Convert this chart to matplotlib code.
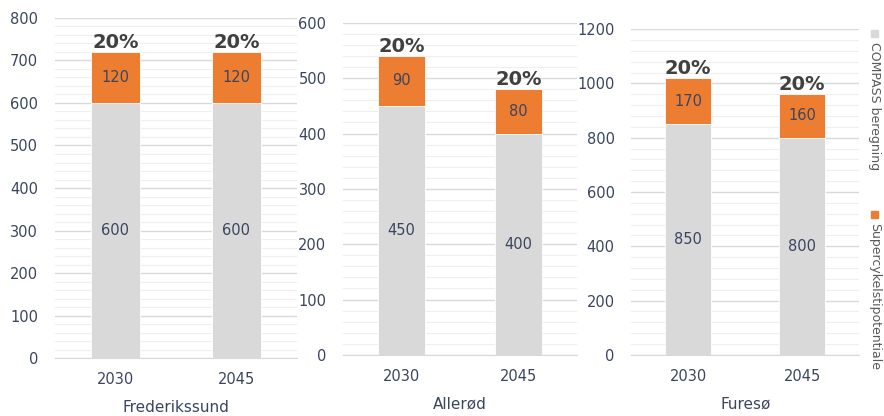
import matplotlib.pyplot as plt
import matplotlib.patches as mpatches
import numpy as np

years = ['2030', '2045']
municipalities = ['Frederikssund', 'Allerød', 'Furesø']
compass = [[600, 600], [450, 400], [850, 800]]
supercykel = [[120, 120], [90, 80], [170, 160]]
pct_labels = [['20%', '20%'], ['20%', '20%'], ['20%', '20%']]
ymax = [800, 600, 1200]
ystep = [100, 100, 200]

grey = '#d9d9d9'
orange = '#ed7d31'
txt = '#3a4660'

plt.rcParams['font.family'] = ['DejaVu Sans']

fig = plt.figure(figsize=(8.84, 4.16), dpi=100)
boxes = [[0.062, 0.139, 0.274, 0.818],
         [0.388, 0.147, 0.265, 0.798],
         [0.714, 0.147, 0.258, 0.783]]

for i, box in enumerate(boxes):
    ax = fig.add_axes(box)
    x = np.arange(len(years))
    ax.bar(x, compass[i], width=0.4, color=grey, edgecolor='white', linewidth=0.6, zorder=3)
    ax.bar(x, supercykel[i], width=0.4, bottom=compass[i], color=orange,
           edgecolor='white', linewidth=0.6, zorder=3)
    for j in range(len(years)):
        ax.text(x[j], compass[i][j] / 2, str(compass[i][j]), ha='center', va='center',
                fontsize=10.5, color=txt, zorder=4)
        ax.text(x[j], compass[i][j] + supercykel[i][j] / 2, str(supercykel[i][j]),
                ha='center', va='center', fontsize=10.5, color=txt, zorder=4)
        ax.text(x[j], compass[i][j] + supercykel[i][j], pct_labels[i][j], ha='center',
                va='bottom', fontsize=14, fontweight='bold', color='#404040', zorder=4)
    ax.set_xlim(-0.5, 1.5)
    ax.set_ylim(0, ymax[i])
    ax.set_yticks(np.arange(0, ymax[i] + 1, ystep[i]))
    ax.set_yticks(np.arange(0, ymax[i] + 1, ystep[i] / 5), minor=True)
    ax.set_xticks(x)
    ax.set_xticklabels(years)
    ax.yaxis.grid(True, which='major', color='#d9d9d9', linewidth=1, zorder=0)
    ax.yaxis.grid(True, which='minor', color='#efefef', linewidth=0.8, zorder=0)
    ax.set_axisbelow(True)
    for s in ['top', 'right', 'left']:
        ax.spines[s].set_visible(False)
    ax.spines['bottom'].set_color('#d9d9d9')
    ax.tick_params(axis='both', which='both', length=0, labelsize=10.5, labelcolor=txt)
    ax.tick_params(axis='y', pad=12)
    ax.tick_params(axis='x', pad=10)
    ax.set_xlabel(municipalities[i], fontsize=11, color=txt, labelpad=9)

# vertical legend on the right edge
fig.patches.append(mpatches.Rectangle((0.985, 1 - 37 / 416), 0.008, 7 / 416,
                                      transform=fig.transFigure, color=grey, figure=fig))
fig.text(0.989, 1 - 42 / 416, 'COMPASS beregning', rotation=-90, ha='center', va='top',
         fontsize=9, color='#595959')
fig.patches.append(mpatches.Rectangle((0.985, 1 - 218 / 416), 0.008, 7 / 416,
                                      transform=fig.transFigure, color=orange, figure=fig))
fig.text(0.989, 1 - 223 / 416, 'Supercykelstipotentiale', rotation=-90, ha='center', va='top',
         fontsize=9, color='#595959')

fig.savefig('out.png', dpi=100)
